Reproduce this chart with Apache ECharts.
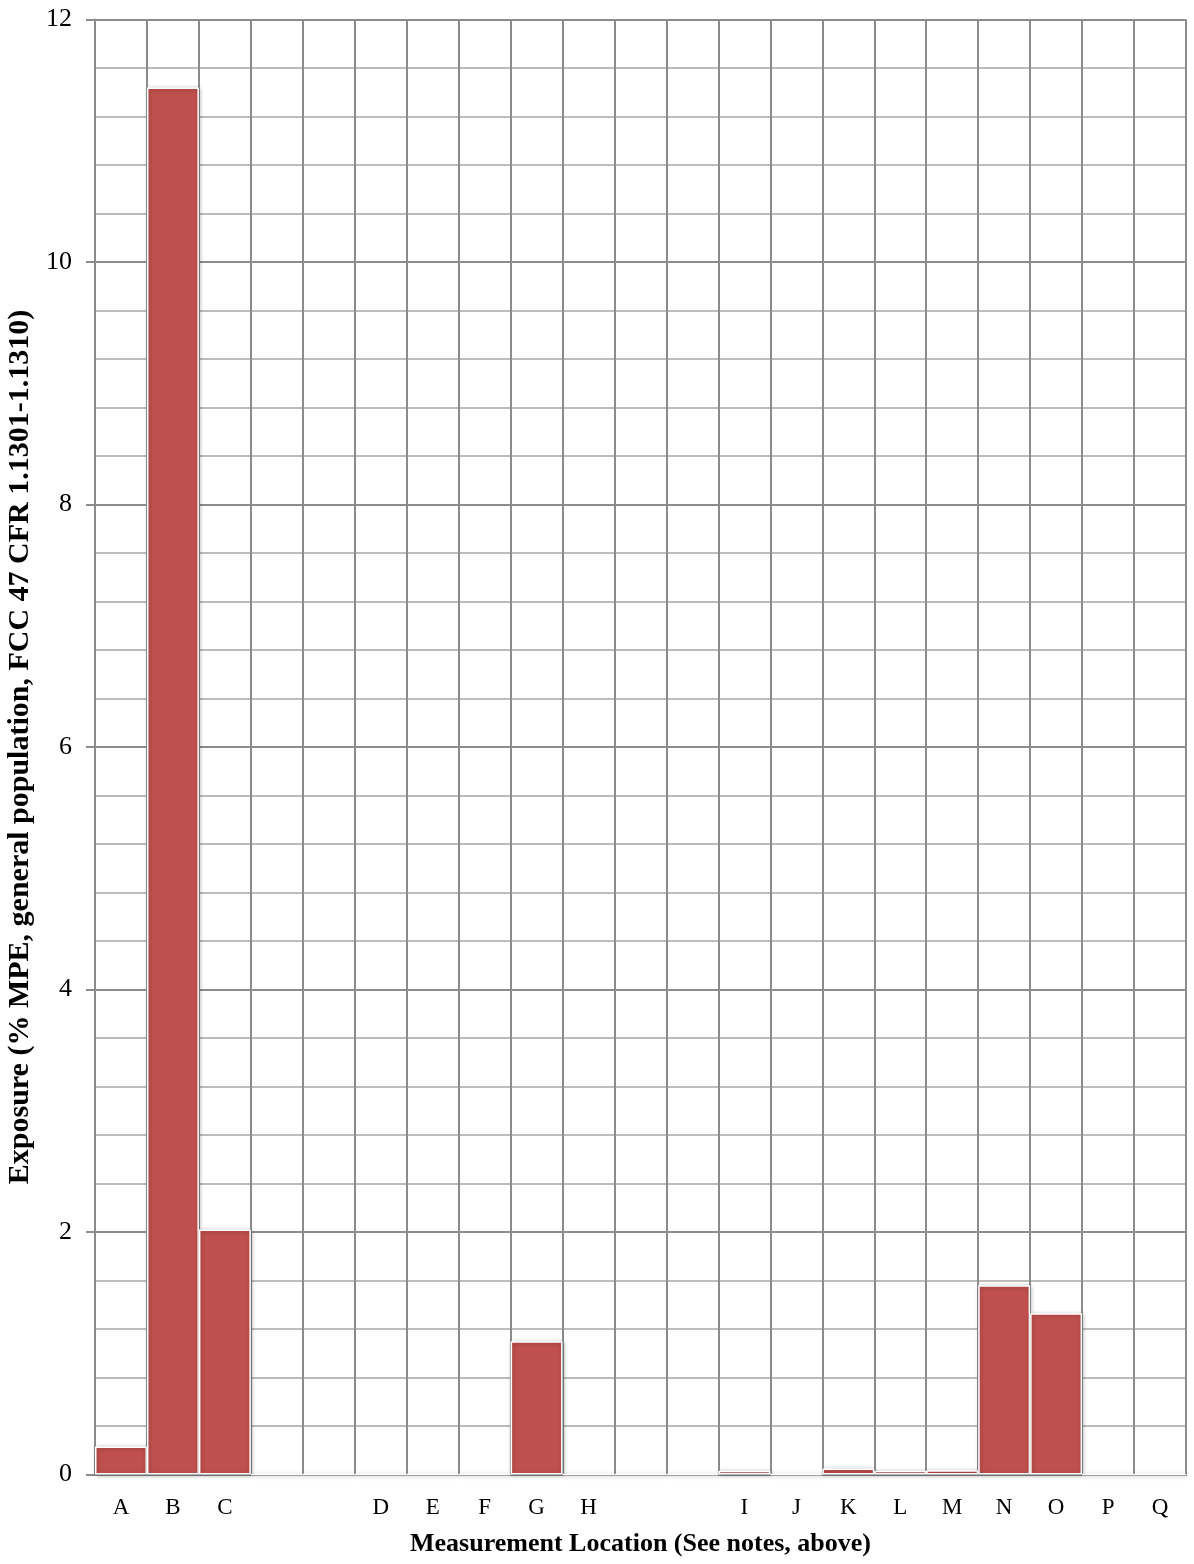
<!DOCTYPE html>
<html>
<head>
<meta charset="utf-8">
<script src="https://cdn.jsdelivr.net/npm/echarts@6/dist/echarts.min.js"></script>
<style>
html,body{margin:0;padding:0;background:#fff;}
#chart{width:1194px;height:1564px;}
</style>
</head>
<body>
<div id="chart"></div>
<script>
const categories = ['A','B','C',' ','  ','D','E','F','G','H','   ','    ','I','J','K','L','M','N','O','P','Q'];
const exposure = [0.23,11.44,2.02,0,0,0,0,0,1.10,0,0,0,0.03,0,0.05,0.03,0.035,1.56,1.33,0,0];
const yTicks = {min:0, max:12, interval:2};

const chart = echarts.init(document.getElementById('chart'));
const font = '"Liberation Serif", "Times New Roman", serif';
chart.setOption({
  animation:false,
  backgroundColor:'#fff',
  grid:{left:95, right:8, top:19.5, bottom:89.5, containLabel:false, outerBoundsMode:'none'},
  xAxis:{
    type:'category',
    data:categories,
    boundaryGap:true,
    name:'Measurement Location (See notes, above)',
    nameLocation:'middle',
    nameGap:57,
    nameTextStyle:{fontFamily:font, fontWeight:'bold', fontSize:26, color:'#000'},
    axisLine:{lineStyle:{color:'#8c8c8c', width:2}},
    axisTick:{show:false},
    axisLabel:{fontFamily:font, fontSize:23, color:'#000', margin:22, interval:0},
    splitLine:{show:true, interval:0, lineStyle:{color:'#8c8c8c', width:2}}
  },
  yAxis:{
    type:'value',
    min:yTicks.min, max:yTicks.max, interval:yTicks.interval,
    name:'Exposure (% MPE, general population, FCC 47 CFR 1.1301-1.1310)',
    nameLocation:'middle',
    nameGap:58,
    nameTextStyle:{fontFamily:font, fontWeight:'bold', fontSize:30, color:'#000'},
    axisLine:{show:true, lineStyle:{color:'#8c8c8c', width:2}},
    axisTick:{show:true, length:9, lineStyle:{color:'#8c8c8c', width:2}},
    axisLabel:{fontFamily:font, fontSize:26, color:'#000', margin:23},
    splitLine:{show:true, lineStyle:{color:'#8c8c8c', width:2}},
    minorTick:{show:false, splitNumber:5},
    minorSplitLine:{show:true, lineStyle:{color:'#a6a6a6', width:1.5}}
  },
  series:[{
    type:'bar',
    data:exposure,
    barCategoryGap:'0%',
    itemStyle:{color:'#C0504D', borderColor:'#ffffff', borderWidth:1.5,
      shadowColor:'rgba(0,0,0,0.3)', shadowBlur:4, shadowOffsetX:1, shadowOffsetY:1}
  }]
});
</script>
</body>
</html>
